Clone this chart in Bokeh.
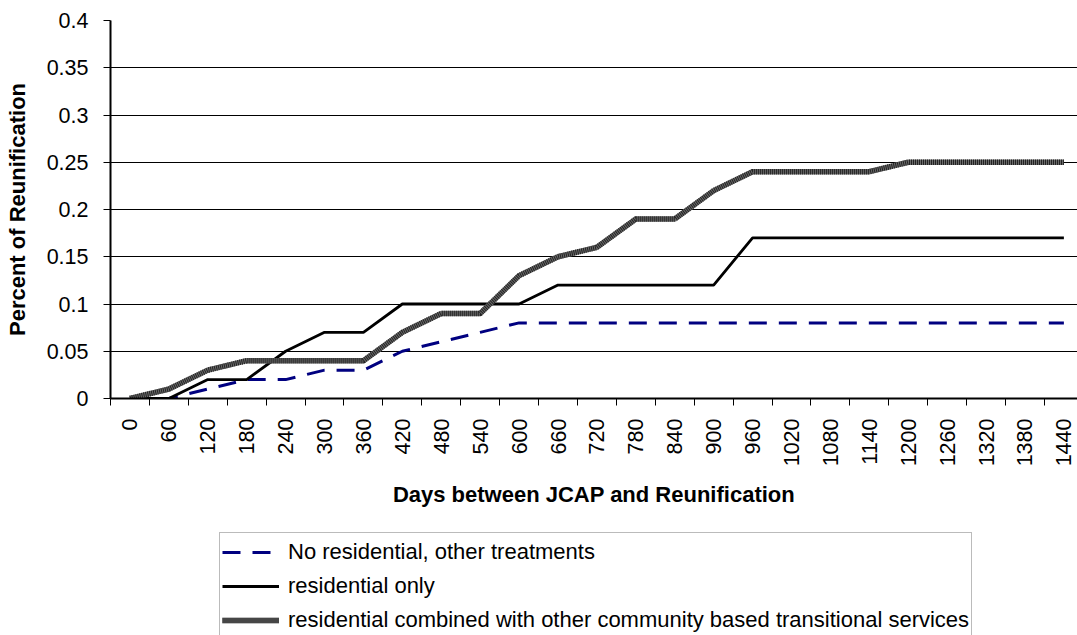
import math
from bokeh.plotting import figure
from bokeh.layouts import column
from bokeh.models import Range1d, FixedTicker, Legend, LegendItem
from bokeh.embed import file_html
from bokeh.resources import INLINE

# ---- data ----
days = [0, 60, 120, 180, 240, 300, 360, 420, 480, 540, 600, 660, 720,
        780, 840, 900, 960, 1020, 1080, 1140, 1200, 1260, 1320, 1380, 1440]
day_labels = [str(d) for d in days]

no_residential = [0, 0, 0.01, 0.02, 0.02, 0.03, 0.03, 0.05, 0.06, 0.07, 0.08, 0.08, 0.08,
                  0.08, 0.08, 0.08, 0.08, 0.08, 0.08, 0.08, 0.08, 0.08, 0.08, 0.08, 0.08]
residential_only = [0, 0, 0.02, 0.02, 0.05, 0.07, 0.07, 0.10, 0.10, 0.10, 0.10, 0.12, 0.12,
                    0.12, 0.12, 0.12, 0.17, 0.17, 0.17, 0.17, 0.17, 0.17, 0.17, 0.17, 0.17]
combined = [0, 0.01, 0.03, 0.04, 0.04, 0.04, 0.04, 0.07, 0.09, 0.09, 0.13, 0.15, 0.16,
            0.19, 0.19, 0.22, 0.24, 0.24, 0.24, 0.24, 0.25, 0.25, 0.25, 0.25, 0.25]

series_names = ["No residential, other treatments",
                "residential only",
                "residential combined with other community based transitional services"]

y_ticks = [0, 0.05, 0.1, 0.15, 0.2, 0.25, 0.3, 0.35, 0.4]
y_tick_labels = ["0", "0.05", "0.1", "0.15", "0.2", "0.25", "0.3", "0.35", "0.4"]

FONT = "Liberation Sans"

# styles per series
NAVY = dict(line_color="#000080", line_width=3, line_dash="18 12")
BLACK = dict(line_color="black", line_width=2.8)
GRAY_BASE = dict(line_color="#6a6a6a", line_width=5.5)
GRAY_STRIPE = dict(line_color="#222222", line_width=5.5, line_dash="1 1")

p = figure(width=1077, height=528,
           x_range=Range1d(-30, 1461), y_range=Range1d(0, 0.4),
           output_backend="svg", toolbar_location=None,
           min_border_left=110, min_border_right=0,
           min_border_top=20, min_border_bottom=130)
p.outline_line_color = None
p.background_fill_color = "white"
p.border_fill_color = "white"

# x axis: labels at category centres, tick marks at category boundaries
xa = p.xaxis[0]
xa.ticker = FixedTicker(ticks=days, minor_ticks=[d - 30 for d in days])
xa.major_label_overrides = {d: lab for d, lab in zip(days, day_labels)}
xa.major_tick_out = 0
xa.major_tick_in = 0
xa.minor_tick_out = 7
xa.minor_tick_in = 0
xa.minor_tick_line_color = "black"
xa.minor_tick_line_width = 1
xa.axis_line_color = "black"
xa.axis_line_width = 2
xa.major_label_orientation = math.pi / 2
xa.major_label_standoff = 13
xa.major_label_text_font = FONT
xa.major_label_text_font_size = "21.5px"
xa.major_label_text_color = "black"
xa.axis_label = "Days between JCAP and Reunification"
xa.axis_label_text_font = FONT
xa.axis_label_text_font_size = "22px"
xa.axis_label_text_font_style = "bold"
xa.axis_label_text_color = "black"
xa.axis_label_standoff = 13

ya = p.yaxis[0]
ya.ticker = FixedTicker(ticks=y_ticks, minor_ticks=[])
ya.major_label_overrides = {t: lab for t, lab in zip(y_ticks, y_tick_labels)}
ya.major_tick_out = 7
ya.major_tick_in = 0
ya.major_tick_line_color = "black"
ya.axis_line_color = "black"
ya.axis_line_width = 2
ya.major_label_standoff = 15
ya.major_label_text_font = FONT
ya.major_label_text_font_size = "21.5px"
ya.major_label_text_color = "black"
ya.axis_label = "Percent of Reunification"
ya.axis_label_text_font = FONT
ya.axis_label_text_font_size = "22px"
ya.axis_label_text_font_style = "bold"
ya.axis_label_text_color = "black"
ya.axis_label_standoff = 14

p.xgrid.visible = False
p.ygrid.ticker = FixedTicker(ticks=y_ticks, minor_ticks=[])
p.ygrid.grid_line_color = "black"
p.ygrid.grid_line_width = 1

p.line(days, no_residential, **NAVY)
p.line(days, residential_only, **BLACK)
p.line(days, combined, **GRAY_BASE)
p.line(days, combined, **GRAY_STRIPE)

# ---- legend strip below the chart ----
p2 = figure(width=1077, height=107,
            x_range=Range1d(0, 1), y_range=Range1d(10, 11),
            x_axis_type=None, y_axis_type=None,
            output_backend="svg", toolbar_location=None,
            min_border_left=0, min_border_right=0,
            min_border_top=0, min_border_bottom=0)
p2.outline_line_color = None
p2.grid.visible = False
p2.background_fill_color = "white"
p2.border_fill_color = "white"

# legend key renderers (their data lies outside this strip's view)
k1 = p2.line(days, no_residential, **NAVY)
k2 = p2.line(days, residential_only, **BLACK)
k3a = p2.line(days, combined, **GRAY_BASE)
k3b = p2.line(days, combined, **GRAY_STRIPE)

legend = Legend(items=[LegendItem(label=series_names[0], renderers=[k1]),
                       LegendItem(label=series_names[1], renderers=[k2]),
                       LegendItem(label=series_names[2], renderers=[k3a, k3b])],
                location=(109, -5),
                label_text_font=FONT, label_text_font_size="22px",
                label_text_color="black",
                glyph_width=57, glyph_height=34, label_height=34,
                spacing=0, padding=2, label_standoff=9, margin=0,
                border_line_color="#777777", border_line_width=1,
                background_fill_color="white", background_fill_alpha=1)
p2.add_layout(legend, "center")

layout = column(p, p2, spacing=0)
open("out.html", "w").write(file_html(layout, INLINE))
